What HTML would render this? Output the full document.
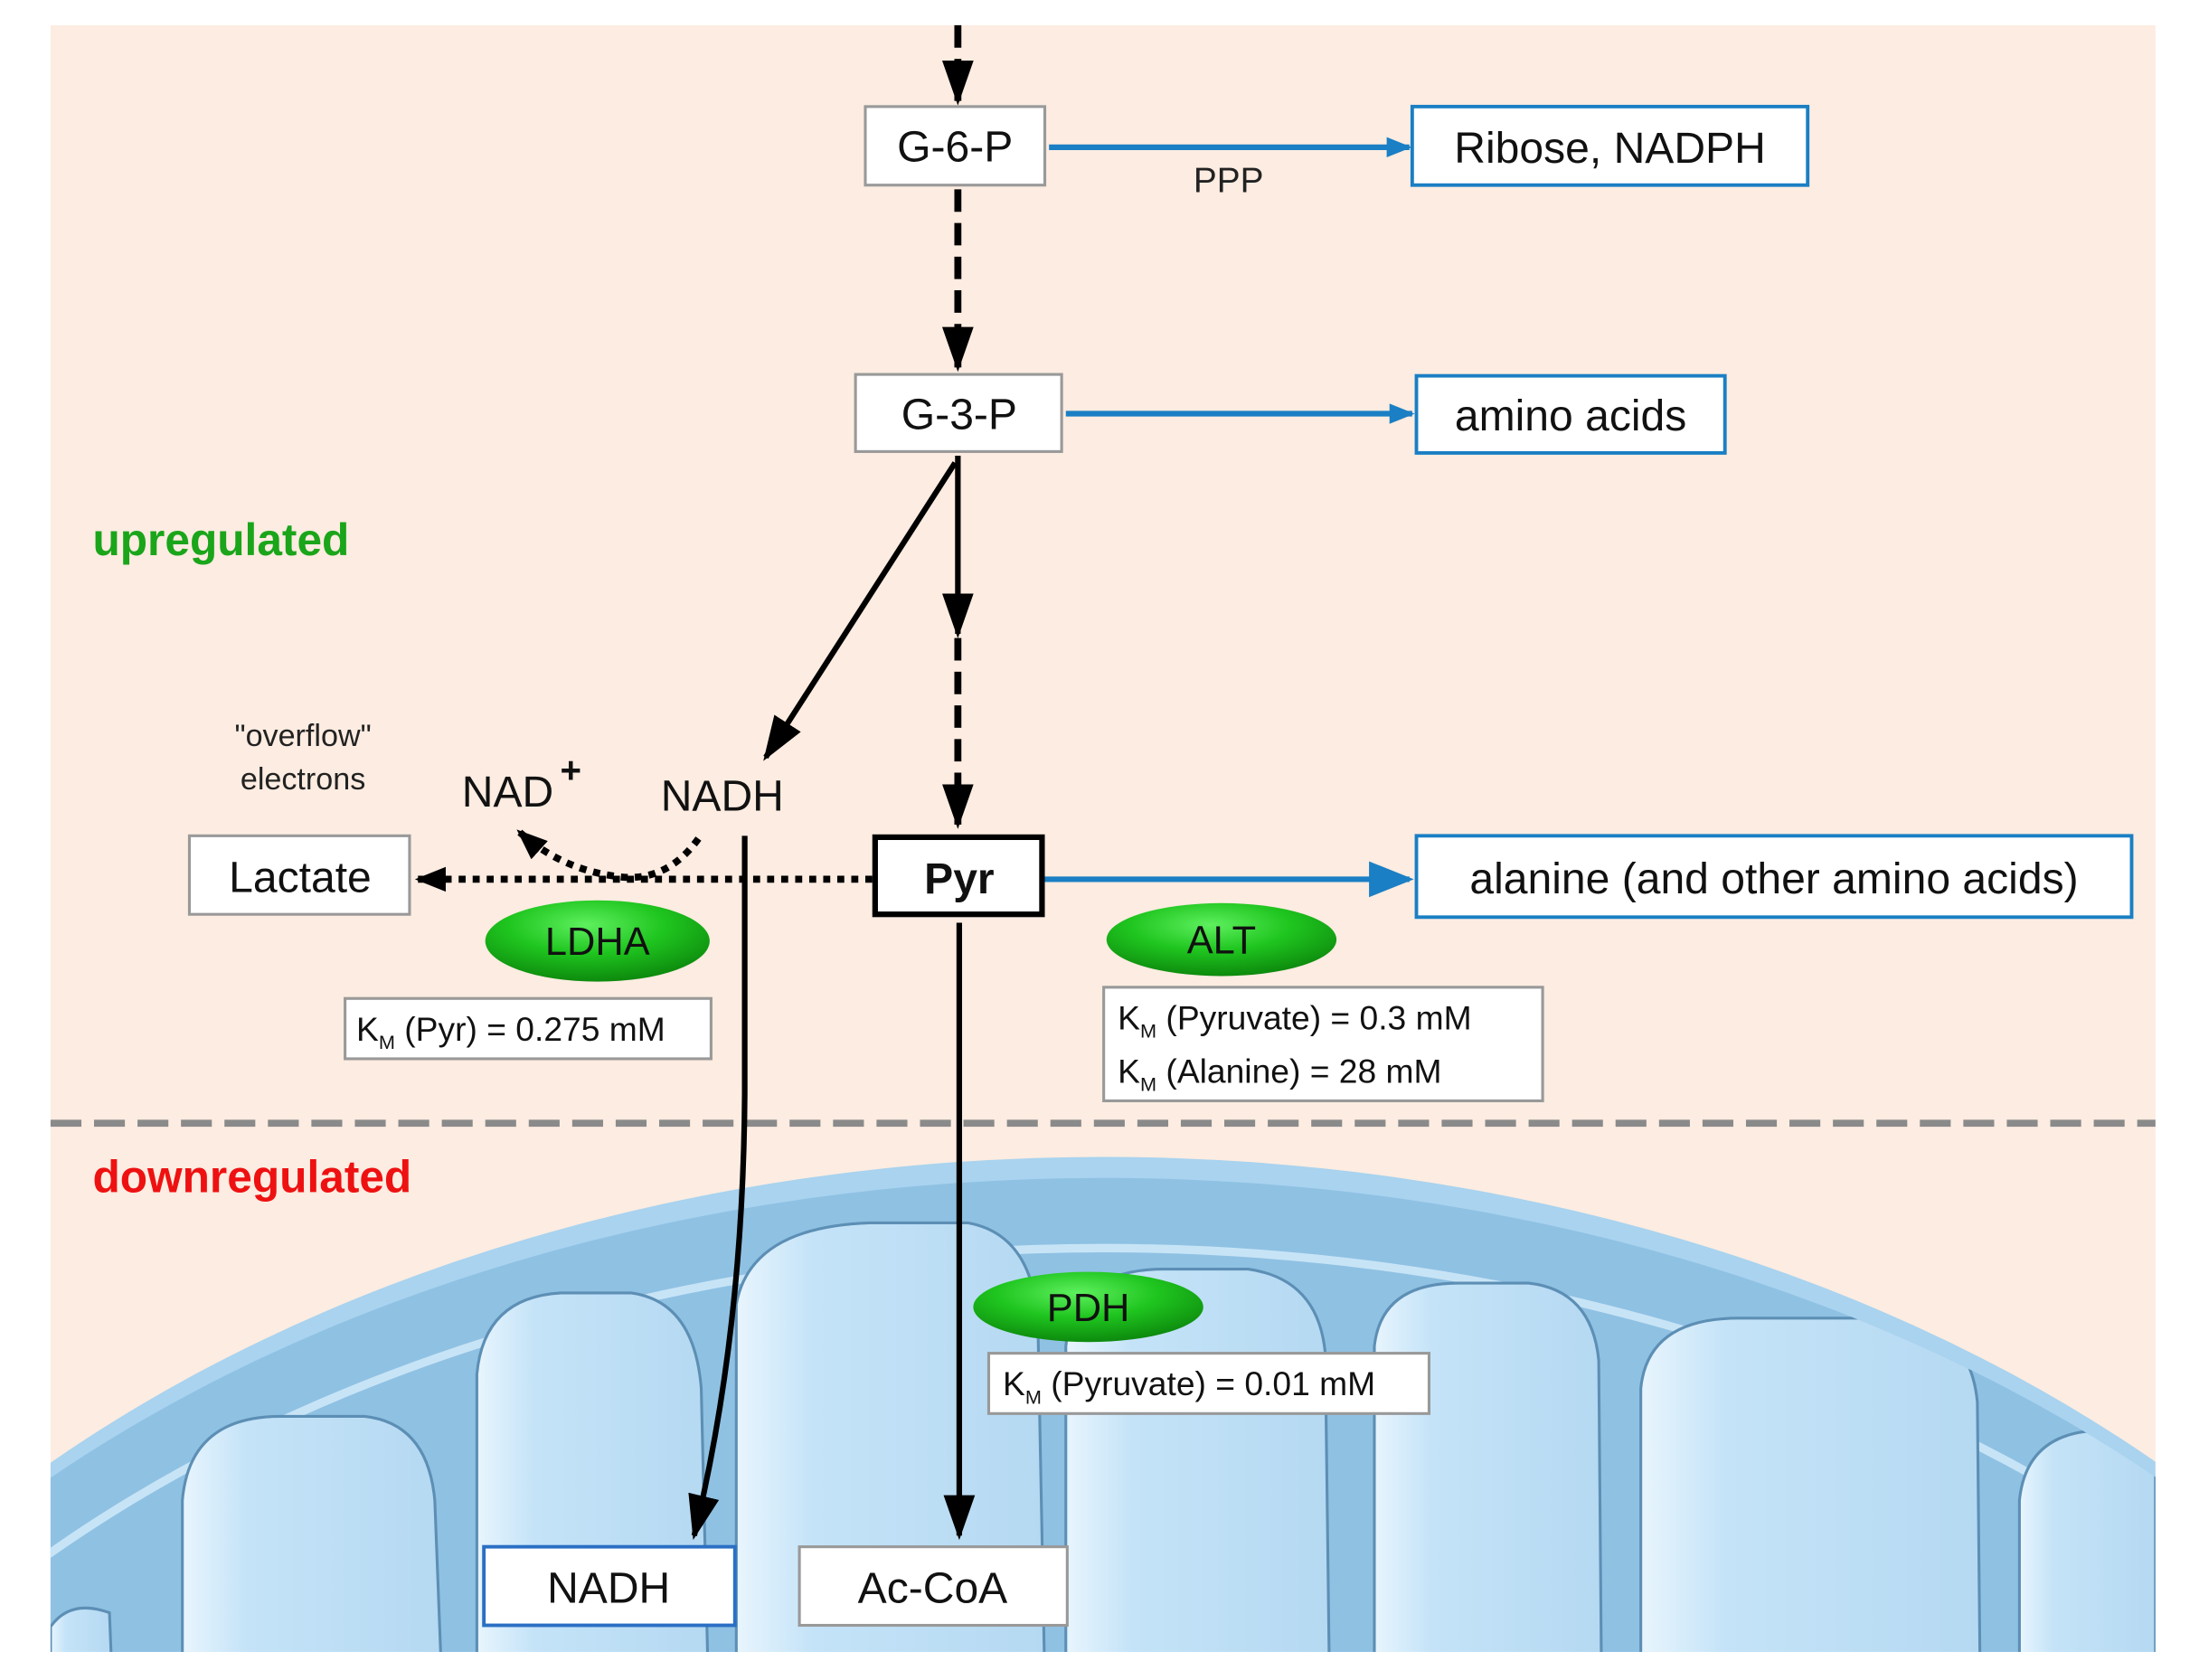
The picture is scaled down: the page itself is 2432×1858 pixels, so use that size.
<!DOCTYPE html>
<html><head><meta charset="utf-8"><style>
html,body{margin:0;padding:0;background:#fff;width:2432px;height:1858px;overflow:hidden}
svg{display:block}
text{font-family:"Liberation Sans",Arial,sans-serif}
</style></head><body>
<svg width="2432" height="1858" viewBox="0 0 1568 1198" xmlns="http://www.w3.org/2000/svg">
<defs>
<marker id="bh" viewBox="0 0 10 10" refX="9" refY="5" markerWidth="18" markerHeight="18" orient="auto" markerUnits="userSpaceOnUse"><path d="M0,1 L10,5 L0,9 Z" fill="#1a7fc4"/></marker>
<marker id="bh2" viewBox="0 0 10 10" refX="9" refY="5" markerWidth="32" markerHeight="32" orient="auto" markerUnits="userSpaceOnUse"><path d="M0,1 L10,5 L0,9 Z" fill="#1a7fc4"/></marker>
<marker id="kh" viewBox="0 0 10 10" refX="9" refY="5" markerWidth="32" markerHeight="32" orient="auto" markerUnits="userSpaceOnUse"><path d="M0,1.5 L10,5 L0,8.5 Z" fill="#000"/></marker>
<marker id="sh" viewBox="0 0 10 10" refX="9" refY="5" markerWidth="22" markerHeight="22" orient="auto" markerUnits="userSpaceOnUse"><path d="M0,1 L10,5 L0,9 Z" fill="#000"/></marker>
<radialGradient id="g" cx="0.45" cy="0.3" r="0.7"><stop offset="0" stop-color="#5ef05e"/><stop offset="0.5" stop-color="#1fc51f"/><stop offset="1" stop-color="#0d8a0d"/></radialGradient>
<linearGradient id="cr" x1="0" y1="0" x2="1" y2="0"><stop offset="0" stop-color="#e8f5fd"/><stop offset="0.25" stop-color="#c4e3f8"/><stop offset="1" stop-color="#b5d9f2"/></linearGradient>
<clipPath id="bg"><rect x="36" y="18" width="1501" height="1160"/></clipPath>
<clipPath id="mito"><ellipse cx="787" cy="1600" rx="1080" ry="760"/></clipPath>
</defs>
<rect x="36" y="18" width="1501" height="1160" fill="#fcece1"/>
<g clip-path="url(#bg)">
<ellipse cx="787" cy="1600" rx="1080" ry="775" fill="#a9d3ef"/>
<ellipse cx="787" cy="1600" rx="1080" ry="760" fill="#8fc1e3"/>
<ellipse cx="787" cy="1620" rx="1055" ry="730" fill="none" stroke="#c7e4f6" stroke-width="6"/>
<g clip-path="url(#mito)" stroke="#5d8fb5" stroke-width="2" fill="url(#cr)">
<path d="M130,1200 L130,1070 Q135,1010 200,1010 L260,1010 Q305,1015 310,1070 L315,1200 Z"/>
<path d="M340,1200 L340,980 Q345,925 400,922 L450,922 Q495,928 500,990 L505,1200 Z"/>
<path d="M525,1200 L525,930 Q535,875 620,872 L690,872 Q735,880 740,940 L745,1200 Z"/>
<path d="M760,1200 L760,960 Q765,905 830,905 L890,905 Q940,912 945,965 L948,1200 Z"/>
<path d="M980,1200 L980,960 Q985,915 1040,915 L1090,915 Q1135,920 1140,970 L1142,1200 Z"/>
<path d="M1170,1200 L1170,990 Q1175,940 1240,940 L1350,940 Q1405,945 1410,1000 L1412,1200 Z"/>
<path d="M1440,1200 L1440,1070 Q1445,1020 1500,1020 L1537,1020 L1537,1200 Z"/>
<path d="M36,1200 L36,1160 Q50,1140 78,1150 L80,1200 Z"/>
</g>
</g>
<rect x="0" y="1178" width="1568" height="20" fill="#fff"/>
<line x1="36" y1="801" x2="1537" y2="801" stroke="#8a8a8a" stroke-width="5" stroke-dasharray="22,9"/>
<text x="66" y="396" font-size="32" font-weight="bold" fill="#1aa51a">upregulated</text>
<text x="66" y="850" font-size="32" font-weight="bold" fill="#ee1111">downregulated</text>
<line x1="683" y1="18" x2="683" y2="72" stroke="#000" stroke-width="5" stroke-dasharray="16,8" marker-end="url(#kh)"/>
<line x1="683" y1="135" x2="683" y2="262" stroke="#000" stroke-width="5" stroke-dasharray="16,8" marker-end="url(#kh)"/>
<line x1="683" y1="325" x2="683" y2="452" stroke="#000" stroke-width="4" marker-end="url(#kh)"/>
<line x1="683" y1="455" x2="683" y2="588" stroke="#000" stroke-width="5" stroke-dasharray="16,8" marker-end="url(#kh)"/>
<line x1="681" y1="330" x2="546" y2="540" stroke="#000" stroke-width="4" marker-end="url(#kh)"/>
<line x1="748" y1="105" x2="1005" y2="105" stroke="#1a7fc4" stroke-width="4" marker-end="url(#bh)"/>
<text x="876" y="137" font-size="25" text-anchor="middle" fill="#222">PPP</text>
<line x1="760" y1="295" x2="1007" y2="295" stroke="#1a7fc4" stroke-width="4" marker-end="url(#bh)"/>
<line x1="745" y1="627" x2="1005" y2="627" stroke="#1a7fc4" stroke-width="4" marker-end="url(#bh2)"/>
<line x1="622" y1="627" x2="298" y2="627" stroke="#000" stroke-width="5" stroke-dasharray="5,5" marker-end="url(#sh)"/>
<path d="M498,598 Q475,630 440,625 Q400,620 370,593" fill="none" stroke="#000" stroke-width="5" stroke-dasharray="5,5" marker-end="url(#sh)"/>
<path d="M531,596 L531,780 Q530,950 495,1095" fill="none" stroke="#000" stroke-width="4" marker-end="url(#kh)"/>
<line x1="684" y1="658" x2="684" y2="1095" stroke="#000" stroke-width="4" marker-end="url(#kh)"/>
<g font-size="31" text-anchor="middle" fill="#111">
<rect x="617" y="76" width="128" height="56" fill="#fff" stroke="#999" stroke-width="2"/><text x="681" y="115">G-6-P</text>
<rect x="1007" y="76" width="282" height="56" fill="#fff" stroke="#1a7fc4" stroke-width="2.5"/><text x="1148" y="116">Ribose, NADPH</text>
<rect x="610" y="267" width="147" height="55" fill="#fff" stroke="#999" stroke-width="2"/><text x="684" y="306">G-3-P</text>
<rect x="1010" y="268" width="220" height="55" fill="#fff" stroke="#1a7fc4" stroke-width="2.5"/><text x="1120" y="307">amino acids</text>
<rect x="135" y="596" width="157" height="56" fill="#fff" stroke="#999" stroke-width="2"/><text x="214" y="636">Lactate</text>
<rect x="624" y="597" width="119" height="55" fill="#fff" stroke="#000" stroke-width="4"/><text x="684" y="637" font-weight="bold">Pyr</text>
<rect x="1010" y="596" width="510" height="58" fill="#fff" stroke="#1a7fc4" stroke-width="2.5"/><text x="1265" y="637">alanine (and other amino acids)</text>
<rect x="345" y="1103" width="179" height="56" fill="#fff" stroke="#2a6fc4" stroke-width="2.5"/><text x="434" y="1143">NADH</text>
<rect x="570" y="1103" width="191" height="56" fill="#fff" stroke="#999" stroke-width="2"/><text x="665" y="1143">Ac-CoA</text>
<text x="362" y="575">NAD</text><text x="407" y="558" font-size="26" font-weight="bold">+</text>
<text x="515" y="578">NADH</text>
</g>
<text x="216" y="532" font-size="22" text-anchor="middle" fill="#222">"overflow"</text>
<text x="216" y="563" font-size="22" text-anchor="middle" fill="#222">electrons</text>
<g font-size="28" text-anchor="middle" fill="#111">
<ellipse cx="426" cy="671" rx="80" ry="29" fill="url(#g)"/><text x="426" y="681">LDHA</text>
<ellipse cx="871" cy="670" rx="82" ry="26" fill="url(#g)"/><text x="871" y="680">ALT</text>
<ellipse cx="776" cy="932" rx="82" ry="25" fill="url(#g)"/><text x="776" y="942">PDH</text>
</g>
<g font-size="24" fill="#111" xml:space="preserve">
<rect x="246" y="712" width="261" height="43" fill="#fff" stroke="#999" stroke-width="2"/>
<text x="254" y="742">K<tspan font-size="14" dy="6">M</tspan><tspan dy="-6"> (Pyr) =  0.275 mM</tspan></text>
<rect x="787" y="704" width="313" height="81" fill="#fff" stroke="#999" stroke-width="2"/>
<text x="797" y="734">K<tspan font-size="14" dy="6">M</tspan><tspan dy="-6"> (Pyruvate) =   0.3 mM</tspan></text>
<text x="797" y="772">K<tspan font-size="14" dy="6">M</tspan><tspan dy="-6"> (Alanine)   =  28   mM</tspan></text>
<rect x="705" y="965" width="314" height="43" fill="#fff" stroke="#999" stroke-width="2"/>
<text x="715" y="995">K<tspan font-size="14" dy="6">M</tspan><tspan dy="-6"> (Pyruvate) =  0.01 mM</tspan></text>
</g>
</svg>
</body></html>
